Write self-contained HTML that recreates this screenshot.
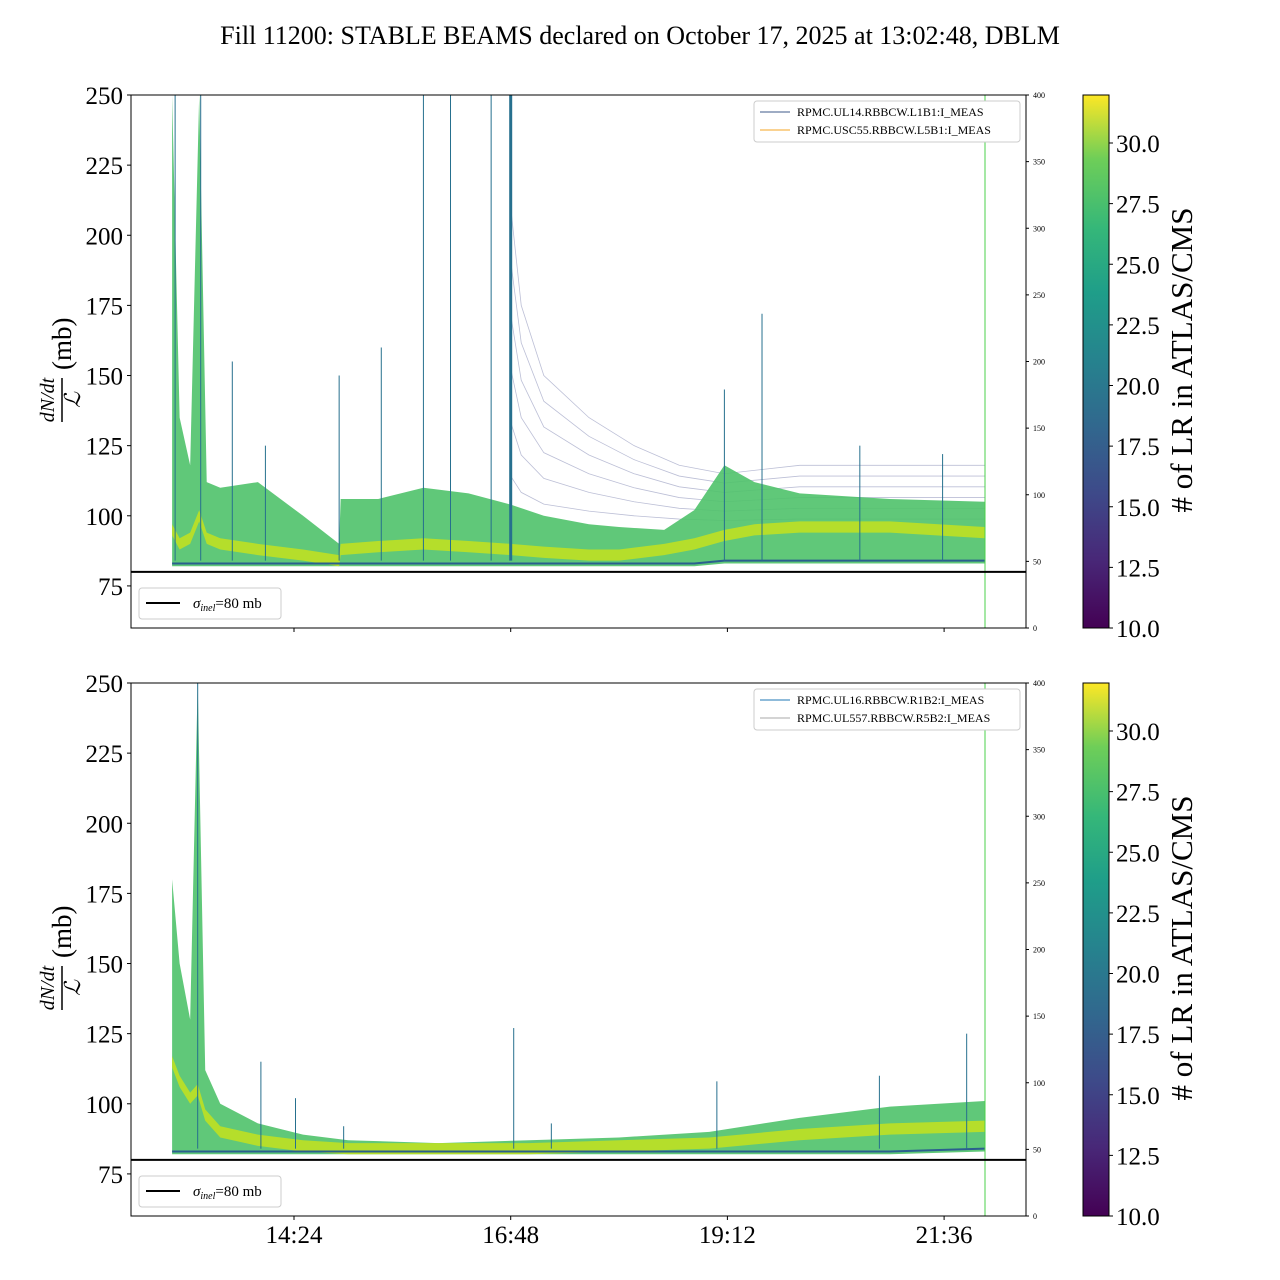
<!DOCTYPE html>
<html><head><meta charset="utf-8"><style>
body{margin:0;background:#fff;}
svg{display:block;font-family:"Liberation Serif",serif;}
</style></head><body>
<svg id="chart" width="1280" height="1280" xmlns="http://www.w3.org/2000/svg">
<defs>
<linearGradient id="viridis" x1="0" y1="1" x2="0" y2="0">
<stop offset="0" stop-color="#440154"/><stop offset="0.13" stop-color="#482878"/><stop offset="0.25" stop-color="#3e4989"/><stop offset="0.38" stop-color="#31688e"/><stop offset="0.5" stop-color="#26828e"/><stop offset="0.63" stop-color="#1f9e89"/><stop offset="0.75" stop-color="#35b779"/><stop offset="0.88" stop-color="#6ece58"/><stop offset="1" stop-color="#fde725"/>
</linearGradient>
</defs>
<text x="640" y="44" text-anchor="middle" font-size="26">Fill 11200: STABLE BEAMS declared on October 17, 2025 at 13:02:48, DBLM</text>
</svg>
<script>
// ---- data (times in minutes since midnight, values in mb) ----
const topTimes=[783,788,795,801,806,815,840,870,894,895,920,950,980,1008,1030,1060,1080,1110,1130,1150,1170,1200,1260,1323];
const topHi=[250,135,118,250,112,110,112,100,90,106,106,110,108,104,100,97,96,95,102,118,112,108,106,105];
const topMid=[95,90,92,100,92,90,88,86,84,88,89,90,89,88,87,86,86,88,90,93,95,96,96,94];
const topLo=[82,82,82,82,82,82,82,82,82,82,82,82,82,82,82,82,82,82,82,83,83,83,83,83];
const topFaintTimes=[1008,1015,1030,1060,1090,1120,1150,1200,1260,1323];
const topFaint=[210,175,150,135,125,118,115,118,118,118];
const topSpikeT=[785,802,823,845,894,922,950,968,995,1008,1150,1175,1240,1295];
const topSpikeV=[250,250,155,125,150,160,250,250,250,250,145,172,125,122];
const botTimes=[783,788,795,800,805,815,840,870,900,960,1020,1080,1140,1200,1260,1323];
const botHi=[180,150,130,250,112,100,93,89,87,86,87,88,90,95,99,101];
const botMid=[115,108,102,105,96,90,87,85,84,84,84,85,86,89,91,92];
const botLo=[82,82,82,82,82,82,82,82,82,82,82,82,82,82,82,83];
const botSpikeT=[800,842,865,897,1010,1035,1145,1253,1311];
const botSpikeV=[250,115,102,92,127,93,108,110,125];
const yTicks=[75,100,125,150,175,200,225,250];
const rTicks=[0,50,100,150,200,250,300,350,400];
const xTicks=[864,1008,1152,1296];
const xTickLabels=["14:24","16:48","19:12","21:36"];
const cTicks=[10,12.5,15,17.5,20,22.5,25,27.5,30];

const NS="http://www.w3.org/2000/svg";
const svg=document.getElementById('chart');
function el(t,a,p){const e=document.createElementNS(NS,t);for(const k in a)e.setAttribute(k,a[k]);(p||svg).appendChild(e);return e;}
const X0=131,X1=1026;
function xs(t){return 294+(t-864)*216.7/144;}
function panel(top,pre,times,hi,mid,lo,spT,spV,faintT,faint,leg){
  const bot=top+533;
  const ys=v=>top+(250-v)*533/190;
  const g=el('g',{});
  
  
  const clip=el('clipPath',{id:pre+'clip'},g);el('rect',{x:X0,y:top,width:X1-X0,height:533},clip);
  const d=el('g',{'clip-path':'url(#'+pre+'clip)'},g);
  if(faintT){
    for(let k=0;k<6;k++){const l=el('polyline',{points:faintT.map((t,i)=>xs(t)+','+ys(95+(faint[i]-95)*(k+1)/6)).join(' '),fill:'none',stroke:'#3e4989','stroke-width':0.8,opacity:0.35},d);
      }
  }
  const up=times.map((t,i)=>xs(t)+','+ys(hi[i])),dn=times.map((t,i)=>xs(t)+','+ys(lo[i])).reverse();
  const band=el('polygon',{points:up.concat(dn).join(' '),fill:'#4fc26a',opacity:0.9},d);
  
  const mu=times.map((t,i)=>xs(t)+','+ys(mid[i]+2)),md=times.map((t,i)=>xs(t)+','+ys(mid[i]-2)).reverse();
  const mb=el('polygon',{points:mu.concat(md).join(' '),fill:'#b5de2b'},d);
  
  const lb=el('polyline',{points:times.map((t,i)=>xs(t)+','+ys(lo[i]+1)).join(' '),fill:'none',stroke:'#2a5f8e','stroke-width':2},d);
  
  spT.forEach((t,i)=>{const s=el('line',{x1:xs(t),x2:xs(t),y1:ys(spV[i]),y2:ys(84),stroke:'#26708e','stroke-width':(pre==='top'&&t===1008)?3:1},d);
    });
  el('line',{x1:985,x2:985,y1:top,y2:bot,stroke:'#4bd04b','stroke-width':1},g);
  const h=el('line',{x1:X0,x2:X1,y1:ys(80),y2:ys(80),stroke:'#000','stroke-width':2},g);
  
  el('rect',{x:X0,y:top,width:X1-X0,height:533,fill:'none',stroke:'#000'},g);
  yTicks.forEach(v=>{el('line',{x1:X0-4,x2:X0,y1:ys(v),y2:ys(v),stroke:'#000'},g);
    const tx=el('text',{x:X0-8,y:ys(v)+9,'text-anchor':'end','font-size':25},g);tx.textContent=v;
    });
  rTicks.forEach(v=>{const y=bot-v*533/400;el('line',{x1:X1,x2:X1+3,y1:y,y2:y,stroke:'#000'},g);
    const tx=el('text',{x:X1+7,y:y+3,'font-size':8},g);tx.textContent=v;
    });
  xTicks.forEach((t,i)=>{el('line',{x1:xs(t),x2:xs(t),y1:bot,y2:bot+4,stroke:'#000'},g);
    if(pre==='bottom'){const tx=el('text',{x:xs(t),y:bot+27,'text-anchor':'middle','font-size':25},g);tx.textContent=xTickLabels[i];
      }});
  const yl=el('g',{transform:'translate(62,'+(top+265)+') rotate(-90)'},g);
  
  let t1=el('text',{x:-40,y:-8,'text-anchor':'middle','font-size':20,'font-style':'italic'},yl);t1.textContent='dN/dt';
  el('line',{x1:-62,x2:-18,y1:0,y2:0,stroke:'#000','stroke-width':1.5},yl);
  let t2=el('text',{x:-40,y:18,'text-anchor':'middle','font-size':22,'font-style':'italic'},yl);t2.textContent='ℒ';
  let t3=el('text',{x:-10,y:9,'font-size':27},yl);t3.textContent='(mb)';
  const lg=el('g',{},g);
  el('rect',{x:139,y:bot-40,width:142,height:31,rx:3,fill:'#fff',stroke:'#ccc'},lg);
  el('line',{x1:146,x2:180,y1:bot-25,y2:bot-25,stroke:'#000','stroke-width':2},lg);
  const st=el('text',{x:193,y:bot-20,'font-size':15},lg);st.innerHTML='<tspan font-style="italic">σ</tspan><tspan font-size="10" dy="3" font-style="italic">inel</tspan><tspan dy="-3">=80 mb</tspan>';
  const sl=el('g',{},g);
  el('rect',{x:754,y:top+6,width:266,height:41,rx:3,fill:'#fff',stroke:'#ccc'},sl);
  leg.forEach((L,i)=>{el('line',{x1:760,x2:790,y1:top+17+i*18,y2:top+17+i*18,stroke:L[1],'stroke-width':1},sl);
    const tx=el('text',{x:797,y:top+21+i*18,'font-size':12},sl);tx.textContent=L[0];});
  const cb=el('g',{},g);
  el('rect',{x:1083,y:top,width:26,height:533,fill:'url(#viridis)',stroke:'#000'},cb);
  cTicks.forEach(v=>{const y=bot-(v-10)*24.25;el('line',{x1:1109,x2:1113,y1:y,y2:y,stroke:'#000'},cb);
    const tx=el('text',{x:1116,y:y+9,'font-size':25},cb);tx.textContent=v.toFixed(1);});
  const ct=el('text',{x:0,y:0,'font-size':31,'text-anchor':'middle',transform:'translate(1192,'+(top+265)+') rotate(-90)'},cb);ct.textContent='# of LR in ATLAS/CMS';
}
panel(95,'top',topTimes,topHi,topMid,topLo,topSpikeT,topSpikeV,topFaintTimes,topFaint,[['RPMC.UL14.RBBCW.L1B1:I_MEAS','#3e5a8a'],['RPMC.USC55.RBBCW.L5B1:I_MEAS','#f5a623']]);
panel(683,'bottom',botTimes,botHi,botMid,botLo,botSpikeT,botSpikeV,null,null,[['RPMC.UL16.RBBCW.R1B2:I_MEAS','#1f77b4'],['RPMC.UL557.RBBCW.R5B2:I_MEAS','#aaaaaa']]);
</script>
</body></html>
